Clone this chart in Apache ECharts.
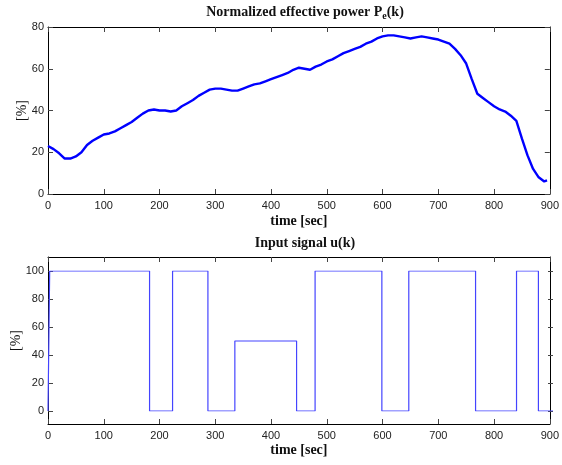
<!DOCTYPE html>
<html>
<head>
<meta charset="utf-8">
<script src="https://cdn.jsdelivr.net/npm/echarts@6/dist/echarts.min.js"></script>
<style>
  html, body { margin: 0; padding: 0; background: #fff; }
  #chart { width: 562px; height: 465px; }
</style>
</head>
<body>
<div id="chart"></div>
<script>
// Top plot: normalized effective power, read every 10 s
const powerTimes = [
  0, 10, 20, 30, 40, 50, 60, 70, 80, 90,
  100, 110, 120, 130, 140, 150, 160, 170, 180, 190,
  200, 210, 220, 230, 240, 250, 260, 270, 280, 290,
  300, 310, 320, 330, 340, 350, 360, 370, 380, 390,
  400, 410, 420, 430, 440, 450, 460, 470, 480, 490,
  500, 510, 520, 530, 540, 550, 560, 570, 580, 590,
  600, 610, 620, 630, 640, 650, 660, 670, 680, 690,
  700, 710, 720, 730, 740, 750, 760, 770, 780, 790,
  800, 810, 820, 830, 840, 850, 860, 870, 880, 890, 895
]
const powerValues = [
  23, 21.5, 19.5, 17, 17, 18, 20, 23.5, 25.5, 27,
  28.5, 29, 30, 31.5, 33, 34.5, 36.5, 38.5, 40, 40.5,
  40, 40, 39.5, 40, 42, 43.5, 45, 47, 48.5, 50,
  50.5, 50.5, 50, 49.5, 49.5, 50.5, 51.5, 52.5, 53, 54,
  55, 56, 57, 58, 59.5, 60.5, 60, 59.5, 61, 62,
  63.5, 64.5, 66, 67.5, 68.5, 69.5, 70.5, 72, 73, 74.5,
  75.5, 76, 76, 75.5, 75, 74.5, 75, 75.5, 75, 74.5,
  74, 73, 72, 69.5, 66.5, 62.5, 55, 48, 46, 44,
  42, 40.5, 39.5, 37.5, 35, 26.5, 18.5, 12, 8, 6, 6.5
]

// Bottom plot: input signal, level held from each switching time
const inputTimes = [0, 3, 181, 222, 285, 333, 443, 476, 595, 643, 762, 835, 874, 900]
const inputValues = [0, 100, 0, 100, 0, 50, 0, 100, 0, 100, 0, 100, 0, 0]

const xTicks = { min: 0, max: 900, interval: 100 }

const tickFont = { fontFamily: 'Liberation Sans', fontSize: 11, color: '#222' }
const serif = 'Liberation Serif'
const nameFont = { fontFamily: serif, fontWeight: 'bold', fontSize: 14, color: '#111' }
const pctFont = { fontFamily: serif, fontSize: 14, color: '#111' }

const tickIn = { show: true, inside: true, length: 5, lineStyle: { color: '#444' } }
const frameLine = { show: true, onZero: false, lineStyle: { color: '#000', width: 1 } }

const chart = echarts.init(document.getElementById('chart'))

const titleRich = {
  a: { fontFamily: serif, fontWeight: 'bold', fontSize: 14, color: '#111' },
  s: { fontFamily: serif, fontWeight: 'bold', fontSize: 10, color: '#111', verticalAlign: 'bottom', padding: [7, 0, 0, 0] }
}

const option = {
  animation: false,
  title: [
    {
      text: '{a|Normalized effective power P}{s|e}{a|(k)}',
      left: 300, top: -1, textAlign: 'center',
      textStyle: { rich: titleRich }
    },
    {
      text: '{a|Input signal u(k)}',
      left: 300, top: 231, textAlign: 'center',
      textStyle: { rich: titleRich }
    }
  ],
  grid: [
    { left: 48, top: 27, width: 505, height: 167 },
    { left: 48, top: 257, width: 505, height: 167 },
    { left: 48, top: 271, width: 505, height: 140 }
  ],
  xAxis: [
    {
      gridIndex: 0, type: 'value', position: 'bottom', ...xTicks,
      axisLine: frameLine, axisTick: tickIn, splitLine: { show: false },
      axisLabel: { ...tickFont, margin: 6 },
      name: 'time [sec]', nameLocation: 'middle', nameGap: 20,
      nameTextStyle: nameFont
    },
    {
      gridIndex: 0, type: 'value', position: 'top', ...xTicks,
      axisLine: frameLine, axisTick: tickIn, splitLine: { show: false },
      axisLabel: { show: false }
    },
    {
      gridIndex: 1, type: 'value', position: 'bottom', ...xTicks,
      axisLine: frameLine, axisTick: tickIn, splitLine: { show: false },
      axisLabel: { ...tickFont, margin: 6 },
      name: 'time [sec]', nameLocation: 'middle', nameGap: 19,
      nameTextStyle: nameFont
    },
    {
      gridIndex: 1, type: 'value', position: 'top', ...xTicks,
      axisLine: frameLine, axisTick: tickIn, splitLine: { show: false },
      axisLabel: { show: false }
    },
    {
      gridIndex: 2, type: 'value', show: false, min: 0, max: 900
    }
  ],
  yAxis: [
    {
      gridIndex: 0, type: 'value', position: 'left', min: 0, max: 80, interval: 20,
      axisLine: frameLine, axisTick: tickIn, splitLine: { show: false },
      axisLabel: { ...tickFont, margin: 4 },
      name: '[%]', nameLocation: 'middle', nameGap: 19, nameRotate: 90,
      nameMoveOverlap: false,
      nameTextStyle: pctFont
    },
    {
      gridIndex: 0, type: 'value', position: 'right', min: 0, max: 80, interval: 20,
      axisLine: frameLine, axisTick: tickIn, splitLine: { show: false },
      axisLabel: { show: false }
    },
    {
      gridIndex: 1, type: 'value', position: 'left', min: -10, max: 110,
      axisLine: frameLine, axisTick: { show: false }, splitLine: { show: false },
      axisLabel: { show: false },
      name: '[%]', nameLocation: 'middle', nameGap: 25, nameRotate: 90,
      nameMoveOverlap: false,
      nameTextStyle: pctFont
    },
    {
      gridIndex: 1, type: 'value', position: 'right', min: -10, max: 110,
      axisLine: frameLine, axisTick: { show: false }, splitLine: { show: false },
      axisLabel: { show: false }
    },
    {
      gridIndex: 2, type: 'value', position: 'left', min: 0, max: 100, interval: 20,
      axisLine: { show: false, onZero: false }, axisTick: tickIn, splitLine: { show: false },
      axisLabel: { ...tickFont, margin: 4 }
    },
    {
      gridIndex: 2, type: 'value', position: 'right', min: 0, max: 100, interval: 20,
      axisLine: { show: false, onZero: false }, axisTick: tickIn, splitLine: { show: false },
      axisLabel: { show: false }
    }
  ],
  series: [
    {
      name: 'power', type: 'line', xAxisIndex: 0, yAxisIndex: 0,
      showSymbol: false, silent: true,
      lineStyle: { color: '#0000ff', width: 2.4 },
      data: powerTimes.map((t, i) => [t, powerValues[i]])
    },
    {
      name: 'input', type: 'line', xAxisIndex: 4, yAxisIndex: 4,
      step: 'end', showSymbol: false, silent: true,
      lineStyle: { color: '#4444ff', width: 1.2 },
      data: inputTimes.map((t, i) => [t, inputValues[i]])
    }
  ]
}

chart.setOption(option)
</script>
</body>
</html>
